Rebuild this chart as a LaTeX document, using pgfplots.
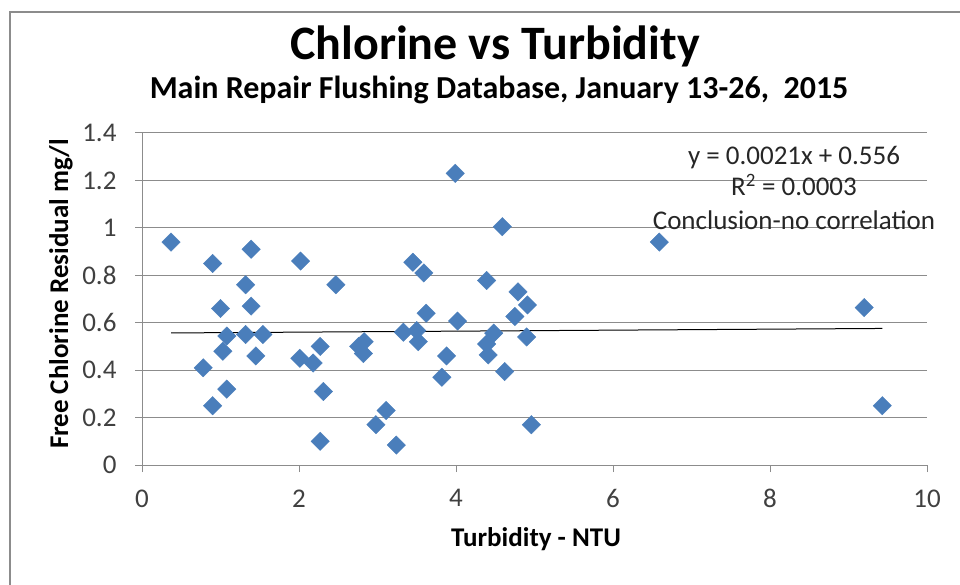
\documentclass[border=0pt]{standalone}
\usepackage{pgfplots}
\pgfplotsset{compat=1.18}
\usepackage{fontspec}
\setmainfont{Carlito}
\definecolor{mk}{HTML}{4A7EBB}
\definecolor{gridc}{HTML}{8C8C8C}
\definecolor{txt}{HTML}{404040}
\begin{document}
\begin{tikzpicture}[x=1pt,y=1pt]
\useasboundingbox (0,0) rectangle (960,584);
\draw[gridc, line width=1.3pt] (10,-20) -- (10,572) -- (990,572);
\node[anchor=base, inner sep=0pt, font=\fontsize{48}{52}\selectfont\bfseries] at (495,524) {Chlorine vs Turbidity};
\node[anchor=base, inner sep=0pt, font=\fontsize{32}{36}\selectfont\bfseries] at (499,485) {Main Repair Flushing Database, January 13-26,~~2015};
\begin{axis}[
  at={(142pt,119pt)}, anchor=south west,
  scale only axis, width=785pt, height=332pt,
  xmin=0, xmax=10, ymin=0, ymax=1.4,
  xtick={0,2,4,6,8,10},
  ytick={0,0.2,0.4,0.6,0.8,1,1.2,1.4},
  yticklabels={0,0.2,0.4,0.6,0.8,1,1.2,1.4},
  axis x line=bottom, axis y line=left,
  axis line style={-, draw=gridc, line width=1pt},
  ymajorgrids, grid style={gridc, line width=1pt},
  tick align=outside, major tick length=7pt,
  tick style={gridc, line width=1pt},
  ticklabel style={font=\fontsize{27}{30}\selectfont, text=txt},
  yticklabel style={xshift=-15pt},
  xticklabel style={yshift=-14pt},
  /pgf/number format/assume math mode=true,
  clip=false,
]
\addplot[only marks, mark=square*, mark size=6.5pt, mark options={rotate=45, fill=mk, draw=mk}] table {
x y
0.37 0.94
0.90 0.85
1.39 0.91
1.32 0.76
1.00 0.66
1.39 0.67
1.08 0.544
1.32 0.55
1.54 0.55
1.03 0.48
1.45 0.46
0.78 0.41
1.08 0.32
0.90 0.25
2.02 0.86
2.47 0.76
2.01 0.45
2.18 0.43
2.27 0.50
2.31 0.31
2.27 0.10
2.76 0.50
2.83 0.52
2.82 0.47
3.11 0.23
2.98 0.17
3.24 0.084
3.33 0.56
3.50 0.567
3.52 0.52
3.45 0.855
3.59 0.81
3.62 0.64
3.88 0.46
3.82 0.37
3.99 1.23
4.02 0.607
4.59 1.005
4.39 0.778
4.79 0.73
4.91 0.675
4.75 0.626
4.48 0.556
4.39 0.51
4.41 0.464
4.90 0.54
4.62 0.394
4.96 0.17
6.59 0.94
9.20 0.664
9.43 0.25
};
\addplot[black, line width=1pt] coordinates {(0.37,0.5568) (9.43,0.5758)};
\end{axis}
\node[anchor=base, inner sep=0pt, font=\fontsize{27}{30}\selectfont\bfseries] at (536,38) {Turbidity - NTU};
\node[anchor=base, rotate=90, inner sep=0pt, font=\fontsize{27}{30}\selectfont\bfseries] at (68,290) {Free Chlorine Residual mg/l};
\node[anchor=base, inner sep=0pt, font=\fontsize{27}{30}\selectfont, text=black!85] at (794,419) {y = 0.0021x + 0.556};
\node[anchor=base, inner sep=0pt, font=\fontsize{27}{30}\selectfont, text=black!85] at (794,388) {R\textsuperscript{2} = 0.0003};
\node[anchor=base, inner sep=0pt, font=\fontsize{27}{30}\selectfont, text=black!85] at (794,354) {Conclusion-no correlation};
\end{tikzpicture}
\end{document}
